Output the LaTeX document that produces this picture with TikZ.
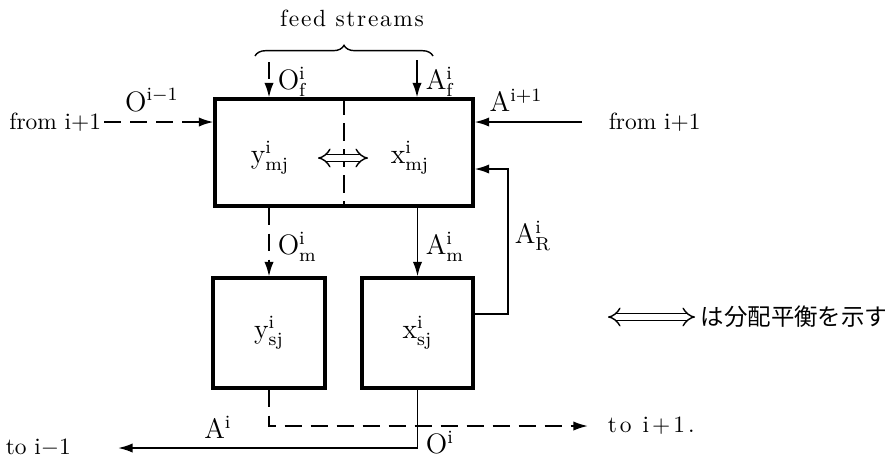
\documentclass[tikz,border=0pt]{standalone}
\usepackage{fontspec}
\newfontfamily\jpfont{Noto Sans CJK JP}
\newfontfamily\wideA[LetterSpace=7]{lmroman10-regular.otf}
\newfontfamily\wideB[LetterSpace=13]{lmroman10-regular.otf}
\usetikzlibrary{arrows.meta,decorations.pathreplacing}

\begin{document}
\begin{tikzpicture}[
  x=0.15mm, y=-0.15mm,
  box/.style={draw, line width=1.3pt, inner sep=0pt, font=\large},
  flow/.style={line width=0.8pt, -{Latex[length=2.2mm,width=1.4mm]}},
  dflow/.style={flow, dash pattern=on 2.6mm off 1.3mm},
  dbl/.style={double, double distance=2.2pt, line width=0.6pt, {Implies}-{Implies}},
  lbl/.style={font=\large, inner sep=1pt},
  txt/.style={inner sep=1pt}
]
\useasboundingbox (0,0) rectangle (885,457);

\node[box, minimum width=38.7mm, minimum height=16.05mm] (main) at (344,152.5) {};
\node[box, minimum width=16.8mm, minimum height=16.5mm] (ys) at (269,333) {$\mathrm{y^{i}_{sj}}$};
\node[box, minimum width=16.65mm, minimum height=16.5mm] (xs) at (417.5,333) {$\mathrm{x^{i}_{sj}}$};
\draw[line width=0.6pt, dash pattern=on 2.6mm off 1.3mm] (main.north) -- (main.south);
\node[lbl] (ymj) at (270,158) {$\mathrm{y^{i}_{mj}}$};
\node[lbl] (xmj) at (410,158) {$\mathrm{x^{i}_{mj}}$};
\coordinate (eqa) at (318,158);
\coordinate (eqb) at (368,158);
\draw[dbl] (eqa) -- (eqb);

% feed streams
\node[txt, font=\wideA] (feed) at (352,18) {feed streams};
\draw[decorate, decoration={brace, amplitude=1.6mm}, line width=0.6pt] (255,56) -- (433,56);
\coordinate (of) at (269,62);
\coordinate (af) at (417,60);
\draw[dflow] (of) -- (of |- main.north);
\draw[flow] (af) -- (af |- main.north);
\node[lbl, anchor=west] (oflbl) at (275,82) {$\mathrm{O^{i}_{f}}$};
\node[lbl, anchor=west] (aflbl) at (423,82) {$\mathrm{A^{i}_{f}}$};

% side streams
\node[txt, anchor=east] (fromleft) at (104,122) {from i+1};
\draw[dflow] (fromleft.east) -- (fromleft.east -| main.west);
\node[lbl] (oin) at (152,100) {$\mathrm{O^{i-1}}$};
\node[txt, anchor=west] (fromright) at (606,122) {from i+1};
\coordinate (rin) at (582,122);
\draw[flow] (rin) -- (rin -| main.east);
\node[lbl] (ain) at (516,100) {$\mathrm{A^{i+1}}$};

% main to settlers
\draw[dflow] (main.south -| ys.north) -- (ys.north);
\draw[flow] (main.south -| xs.north) -- (xs.north);
\node[lbl, anchor=west] (omlbl) at (275,247) {$\mathrm{O^{i}_{m}}$};
\node[lbl, anchor=west] (amlbl) at (423,247) {$\mathrm{A^{i}_{m}}$};
\coordinate (rc) at (508,169);
\draw[flow] ([yshift=2.85mm]xs.east) -| (rc) -- (rc -| main.east);
\node[lbl, anchor=west] (arlbl) at (512,236) {$\mathrm{A^{i}_{R}}$};

% outlets
\node[txt, anchor=west, font=\wideB] (toright) at (605,426) {to i+1.};
\node[txt, anchor=west] (toleft) at (3,448) {to i$-$1};
\coordinate (dout) at (588,426);
\coordinate (sout) at (118,448);
\draw[dflow] (ys.south) |- (dout);
\draw[flow] (xs.south) |- (sout);
\node[lbl] (aout) at (218,427) {$\mathrm{A^{i}}$};
\node[lbl] (oout) at (440,443) {$\mathrm{O^{i}}$};

% legend
\coordinate (la) at (608,317);
\coordinate (lb) at (695,317);
\draw[dbl] (la) -- (lb);
\node[anchor=west, font=\jpfont, inner sep=1pt] (legend) at (698,317) {は分配平衡を示す};
\end{tikzpicture}
\end{document}
